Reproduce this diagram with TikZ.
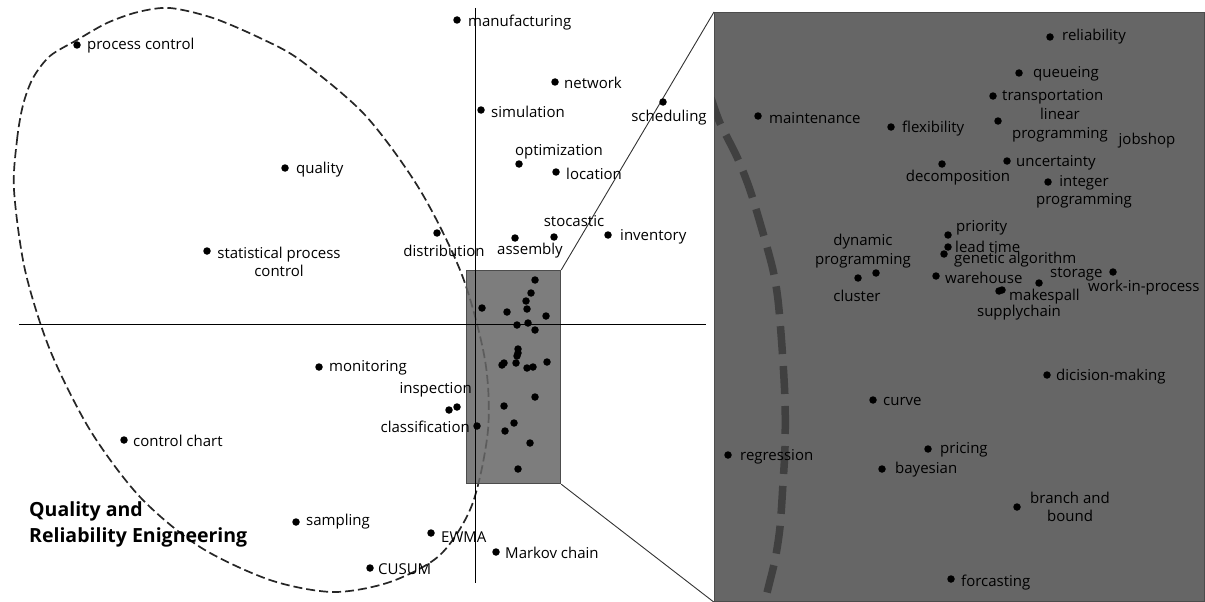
\documentclass[tikz,border=0pt]{standalone}
\usepackage{fontspec}
\setmainfont{Open Sans}
\begin{document}
\begin{tikzpicture}[x=1pt,y=-1pt,
  dot/.style={circle,fill=black,inner sep=0pt,minimum size=7.5pt},
  lbl/.style={font=\fontsize{15}{18.5}\selectfont,inner sep=0pt,text=black},
  lw/.style={lbl,anchor=west},
  lc/.style={lbl,align=center},
  panel/.style={draw=black!70,fill=black!60,line width=1.2pt,inner sep=0pt,anchor=north west},
  axis/.style={draw=black,line width=0.9pt},
  zoomline/.style={draw=black!80,line width=0.9pt},
  qcurve/.style={draw=black!85,line width=1.7pt,dash pattern=on 9pt off 4pt},
  bigdash/.style={draw=black!75,line width=7.5pt,dash pattern=on 28pt off 12pt}
]
\useasboundingbox (0,0) rectangle (1205,602);

% big zoom panel
\node[panel,minimum width=490pt,minimum height=589pt] (zoomdst) at (714,12) {};
\begin{scope}
\clip (714,12) rectangle (1205,602);
\draw[bigdash] plot[smooth] coordinates {(711,98) (720,123) (737,157) (750,190) (763,233) (773,270) (778,300) (782,347) (785,400) (785,447) (783,483) (780,527) (775,560) (767,593) (764,610)};
\end{scope}

% left dashed region
\draw[qcurve] plot[smooth cycle] coordinates {(14,190) (17,140) (23,105) (33,78) (50,56) (77,40) (107,23) (138,12) (170,8) (213,18) (260,38) (300,60) (365,115) (420,190) (462,275) (485,360) (488,430) (472,505) (440,555) (390,582) (333,592) (270,580) (200,547) (140,497) (90,430) (50,350) (25,270)};

% small zoom source rectangle
\node[panel,minimum width=94pt,minimum height=213pt,fill opacity=0.85] (zoomsrc) at (466,270) {};

% axes
\coordinate (axL) at (19,324);
\coordinate (axR) at (706,324);
\coordinate (axT) at (475,8);
\coordinate (axB) at (475,583);
\draw[axis] (axL) -- (axR);
\draw[axis] (axT) -- (axB);

% zoom connectors
\draw[zoomline] (zoomsrc.north east) -- (zoomdst.north west);
\draw[zoomline] (zoomsrc.south east) -- (zoomdst.south west);

% ---- left panel terms
\node[dot] (d1) at (77,45) {};   \node[lw] (t1) at (87,46) {process control};
\node[dot] (d2) at (457,20) {};  \node[lw] (t2) at (468,23) {manufacturing};
\node[dot] (d3) at (555,82) {};  \node[lw] (t3) at (564,83) {network};
\node[dot] (d4) at (481,110) {}; \node[lw] (t4) at (491,112) {simulation};
\node[dot] (d5) at (663,102) {}; \node[lc] (t5) at (669,118) {scheduling};
\node[dot] (d6) at (519,164) {}; \node[lc] (t6) at (559,152) {optimization};
\node[dot] (d7) at (556,172) {}; \node[lw] (t7) at (566,174) {location};
\node[dot] (d8) at (437,233) {}; \node[lc] (t8) at (444,251) {distribution};
\node[dot] (d9) at (515,238) {}; \node[lc] (t9) at (530,251) {assembly};
\node[dot] (d10) at (554,237) {}; \node[lc] (t10) at (574,221) {stocastic};
\node[dot] (d11) at (608,235) {}; \node[lw] (t11) at (620,237) {inventory};
\node[dot] (d12) at (285,168) {}; \node[lw] (t12) at (296,170) {quality};
\node[dot] (d13) at (207,251) {}; \node[lc] (t13) at (279,262) {statistical process\\control};
\node[dot] (d14) at (319,367) {}; \node[lw] (t14) at (329,368) {monitoring};
\node[dot] (d15a) at (449,410) {}; \node[dot] (d15b) at (457,407) {};
\node[lbl,anchor=east] (t15) at (472,390) {inspection};
\node[dot] (d16) at (477,426) {}; \node[lbl,anchor=east] (t16) at (470,427) {classification};
\node[dot] (d17) at (124,440) {}; \node[lw] (t17) at (133,441) {control chart};
\node[dot] (d18) at (296,522) {}; \node[lw] (t18) at (306,522) {sampling};
\node[dot] (d19) at (370,568) {}; \node[lw] (t19) at (378,569) {CUSUM};
\node[dot] (d20) at (431,533) {}; \node[lw] (t20) at (441,537) {EWMA};
\node[dot] (d21) at (496,552) {}; \node[lw] (t21) at (505,553) {Markov chain};
\node[font=\fontsize{19.5}{26}\selectfont\bfseries,align=left,anchor=west,inner sep=0pt] (title) at (29,524) {Quality and\\Reliability Enigneering};

% ---- dots inside the small rectangle
\foreach \p [count=\i] in {(535,280),(531,293),(526,301),(527,309),(482,308),(507,312),(546,316),(517,325),(528,323),(535,330),(518,349),(518,353),(517,356),(502,365),(504,363),(516,363),(527,368),(533,367),(547,362),(535,397),(504,406),(514,423),(505,431),(530,443),(518,469)}
  \node[dot] (s\i) at \p {};

% ---- right panel terms
\node[dot] (r1) at (1050,37) {};  \node[lw] (u1) at (1062,37) {reliability};
\node[dot] (r2) at (1019,73) {};  \node[lw] (u2) at (1033,74) {queueing};
\node[dot] (r3) at (993,96) {};   \node[lw] (u3) at (1002,97) {transportation};
\node[dot] (r4) at (998,121) {};  \node[lc] (u4) at (1060,125) {linear\\programming};
\node[lc] (u5) at (1147,141) {jobshop};
\node[dot] (r6) at (758,116) {};  \node[lw] (u6) at (769,118) {maintenance};
\node[dot] (r7) at (891,127) {};  \node[lw] (u7) at (902,129) {flexibility};
\node[dot] (r8) at (942,164) {};  \node[lc] (u8) at (958,178) {decomposition};
\node[dot] (r9) at (1007,161) {}; \node[lw] (u9) at (1016,163) {uncertainty};
\node[dot] (r10) at (1048,182) {}; \node[lc] (u10) at (1084,192) {integer\\programming};
\node[dot] (r11) at (948,235) {}; \node[lw] (u11) at (956,228) {priority};
\node[dot] (r12) at (948,247) {}; \node[lw] (u12) at (955,247) {lead time};
\node[dot] (r13) at (944,254) {}; \node[lw] (u13) at (954,260) {genetic algorithm};
\node[dot] (r14a) at (858,278) {}; \node[dot] (r14b) at (876,273) {};
\node[lc] (u14) at (863,251) {dynamic\\programming};
\node[lc] (u15) at (857,296) {cluster};
\node[dot] (r16) at (936,276) {}; \node[lw] (u16) at (945,278) {warehouse};
\node[dot] (r17) at (1039,283) {}; \node[lw] (u17) at (1050,274) {storage};
\node[dot] (r18) at (1113,272) {}; \node[lw] (u18) at (1088,288) {work-in-process};
\node[dot] (r19) at (999,291) {}; \node[lw] (u19) at (1009,297) {makespall};
\node[dot] (r20) at (1002,290) {}; \node[lc] (u20) at (1019,313) {supplychain};
\node[dot] (r21) at (1047,375) {}; \node[lw] (u21) at (1056,377) {dicision-making};
\node[dot] (r22) at (873,400) {}; \node[lw] (u22) at (883,401) {curve};
\node[dot] (r23) at (728,455) {}; \node[lw] (u23) at (740,457) {regression};
\node[dot] (r24) at (928,449) {}; \node[lw] (u24) at (940,450) {pricing};
\node[dot] (r25) at (882,469) {}; \node[lw] (u25) at (895,470) {bayesian};
\node[dot] (r26) at (1017,507) {}; \node[lc] (u26) at (1070,507) {branch and\\bound};
\node[dot] (r27) at (951,579) {}; \node[lw] (u27) at (961,583) {forcasting};
\end{tikzpicture}
\end{document}
